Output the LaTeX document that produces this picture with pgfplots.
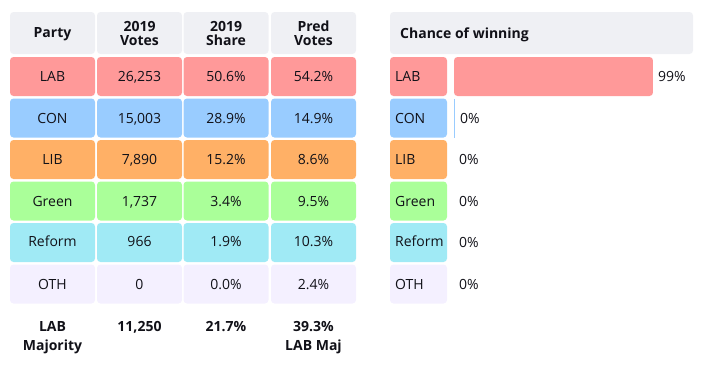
\documentclass[border=0pt]{standalone}
\usepackage{pgfplots}
\pgfplotsset{compat=1.18}
\usepackage{fontspec}
\setmainfont{Open Sans}
\definecolor{labc}{HTML}{FF9999}
\definecolor{conc}{HTML}{99CCFF}
\definecolor{libc}{HTML}{FFB066}
\definecolor{grnc}{HTML}{AAFF99}
\definecolor{refc}{HTML}{A0EAF5}
\definecolor{othc}{HTML}{F4F0FF}
\definecolor{hdrc}{HTML}{EFF0F4}
\definecolor{tc}{HTML}{111118}
\pgfplotsset{
  cellbg/.style n args={3}{draw=none, mark=none, point meta=y, nodes near coords={},
    every node near coord/.style={fill=#1, minimum width=#2, minimum height=#3,
      rounded corners=3.5pt, inner sep=0pt, anchor=center}},
  txt/.style={draw=none, mark=none, point meta=explicit symbolic, nodes near coords,
    every node near coord/.style={anchor=base, inner sep=0pt, text=tc,
      font=\fontsize{14}{14}\selectfont#1}},
  txt/.default={},
  txtl/.style={draw=none, mark=none, point meta=explicit symbolic, nodes near coords,
    every node near coord/.style={anchor=base west, inner sep=0pt, text=tc,
      font=\fontsize{14}{14}\selectfont#1}},
  txtl/.default={},
}
\begin{document}
\begin{tikzpicture}
\begin{axis}[name=tbl, at={(0,0)}, anchor=north west,
  x=1pt, y=1pt, xmin=0, xmax=705, ymin=0, ymax=369, y dir=reverse,
  hide axis, clip=false]
% bounding box
\path (axis cs:0,0) rectangle (axis cs:705,369);
% header cells
\addplot[cellbg={hdrc}{85pt}{42pt}] coordinates {(52.5,33) (139.5,33) (226,33) (313.5,33)};
\addplot[cellbg={hdrc}{303pt}{42pt}] coordinates {(541.5,33)};
% row cells
\addplot[cellbg={labc}{85pt}{39pt}] coordinates {(52.5,76.5) (139.5,76.5) (226,76.5) (313.5,76.5)};
\addplot[cellbg={conc}{85pt}{39pt}] coordinates {(52.5,118) (139.5,118) (226,118) (313.5,118)};
\addplot[cellbg={libc}{85pt}{39pt}] coordinates {(52.5,159.5) (139.5,159.5) (226,159.5) (313.5,159.5)};
\addplot[cellbg={grnc}{85pt}{39pt}] coordinates {(52.5,201) (139.5,201) (226,201) (313.5,201)};
\addplot[cellbg={refc}{85pt}{39pt}] coordinates {(52.5,242.5) (139.5,242.5) (226,242.5) (313.5,242.5)};
\addplot[cellbg={othc}{85pt}{39pt}] coordinates {(52.5,284) (139.5,284) (226,284) (313.5,284)};
% right label cells
\addplot[cellbg={labc}{57pt}{39pt}] coordinates {(418.5,76.5)};
\addplot[cellbg={conc}{57pt}{39pt}] coordinates {(418.5,118)};
\addplot[cellbg={libc}{57pt}{39pt}] coordinates {(418.5,159.5)};
\addplot[cellbg={grnc}{57pt}{39pt}] coordinates {(418.5,201)};
\addplot[cellbg={refc}{57pt}{39pt}] coordinates {(418.5,242.5)};
\addplot[cellbg={othc}{57pt}{39pt}] coordinates {(418.5,284)};
% header text
\addplot[txt=\bfseries] coordinates {(52.5,37.7)[Party] (139.5,31)[2019] (139.5,45)[Votes]
  (226,31)[2019] (226,45)[Share] (313.5,31)[Pred] (313.5,45)[Votes]};
\addplot[txtl=\bfseries] coordinates {(400,38.3)[Chance of winning]};
% data text
\addplot[txt] coordinates {
 (52.5,81.5)[LAB] (139.5,81.5)[26,253] (226,81.5)[50.6\%] (313.5,81.5)[54.2\%]
 (52.5,123.2)[CON] (139.5,123.2)[15,003] (226,123.2)[28.9\%] (313.5,123.2)[14.9\%]
 (52.5,164.4)[LIB] (139.5,164.4)[7,890] (226,164.4)[15.2\%] (313.5,164.4)[8.6\%]
 (52.5,206)[Green] (139.5,206)[1,737] (226,206)[3.4\%] (313.5,206)[9.5\%]
 (52.5,246.8)[Reform] (139.5,246.8)[966] (226,246.8)[1.9\%] (313.5,246.8)[10.3\%]
 (52.5,289)[OTH] (139.5,289)[0] (226,289)[0.0\%] (313.5,289)[2.4\%]
};
\addplot[txtl] coordinates {(395,81.5)[LAB] (395,123.2)[CON] (395,164.4)[LIB]
  (395,206)[Green] (395,246.8)[Reform] (395,289)[OTH]};
% footer
\addplot[txt=\bfseries] coordinates {(52.5,331)[LAB] (52.5,350)[Majority]
  (139.5,331)[11,250] (226,331)[21.7\%] (313.5,331)[39.3\%] (313.5,350)[LAB Maj]};
\end{axis}
\begin{axis}[at={(tbl.north west)}, anchor=north west, xshift=454pt,
  x=2.01pt, y=1pt, xmin=0, xmax=100, ymin=0, ymax=369, y dir=reverse,
  hide axis, clip=false,
  every node near coord/.style={anchor=west, inner sep=0pt, xshift=5pt, text=tc,
      font=\fontsize{14}{14}\selectfont}]
\addplot[xbar, bar shift=0pt, bar width=39pt, fill=labc, draw=none, rounded corners=3.5pt,
  nodes near coords, point meta=explicit symbolic] coordinates {(99,76.5)[99\%]};
\addplot[xbar, bar shift=0pt, bar width=39pt, fill=conc, draw=none,
  nodes near coords, point meta=explicit symbolic] coordinates {(0.4,118)[0\%]};
\addplot[xbar, bar shift=0pt, bar width=39pt, fill=none, draw=none,
  nodes near coords, point meta=explicit symbolic] coordinates {(0,159.5)[0\%] (0,201)[0\%] (0,242.5)[0\%] (0,284)[0\%]};
\end{axis}
\end{tikzpicture}
\end{document}
